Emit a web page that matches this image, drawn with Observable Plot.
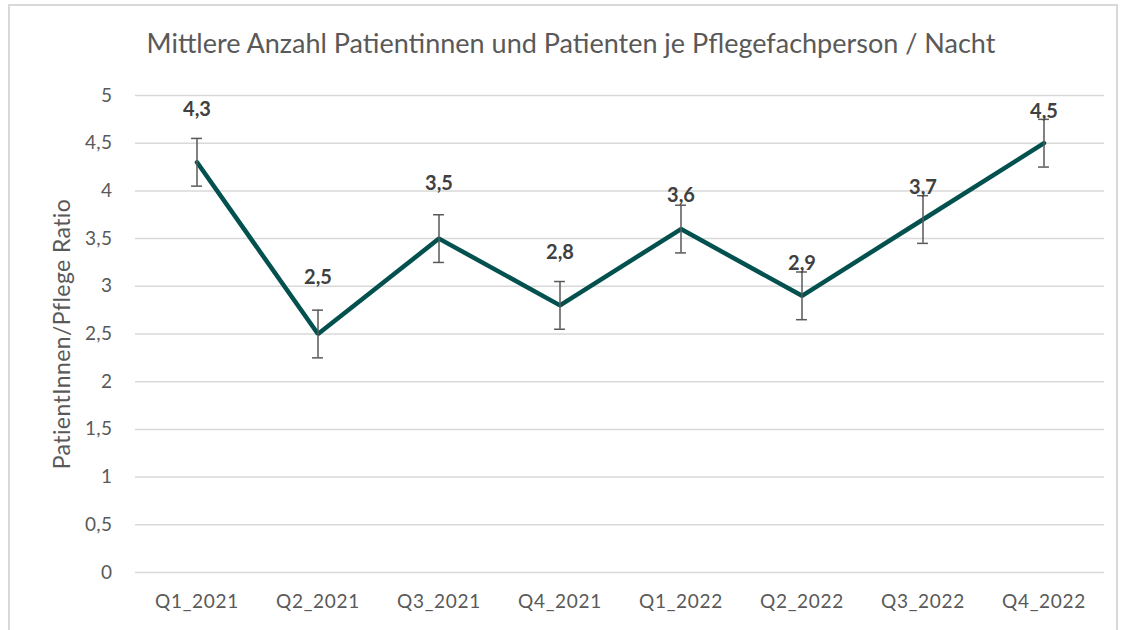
<!DOCTYPE html>
<html>
<head>
<meta charset="utf-8">
<script src="https://cdn.jsdelivr.net/npm/d3@7"></script>
<script src="https://cdn.jsdelivr.net/npm/@observablehq/plot@0.6"></script>
<style>
  html, body { margin: 0; padding: 0; background: #fff; }
  body { width: 1128px; height: 630px; position: relative; overflow: hidden; font-family: Lato, "Open Sans", sans-serif; }
  #frame { position: absolute; left: 8px; top: 4px; width: 1110px; height: 640px; border: 2px solid #d9d9d9; box-sizing: border-box; }
  #title { position: absolute; left: 0; top: 26px; width: 1142px; text-align: center; font-size: 27px; color: #595959; }
  #chart { position: absolute; left: 0; top: 80px; }
  #chart [aria-label="x-axis tick label"] text { letter-spacing: 0.7px; }
  #chart [aria-label="y-axis tick label"] text { letter-spacing: 0.4px; }
  #chart .ylab text { letter-spacing: 0.4px; }
</style>
</head>
<body>
<div id="frame"></div>
<div id="title">Mittlere Anzahl Patientinnen und Patienten je Pflegefachperson / Nacht</div>
<div id="chart"></div>
<script>
const categories = ["Q1_2021", "Q2_2021", "Q3_2021", "Q4_2021", "Q1_2022", "Q2_2022", "Q3_2022", "Q4_2022"];
const values = [4.3, 2.5, 3.5, 2.8, 3.6, 2.9, 3.7, 4.5];
const errors = [0.25, 0.25, 0.25, 0.25, 0.25, 0.25, 0.25, 0.25];
const yTicks = [0, 0.5, 1, 1.5, 2, 2.5, 3, 3.5, 4, 4.5, 5];
const yLabel = "PatientInnen/Pflege Ratio";

// layout only: vertical offset of each data label (px)
const labelDy = [-53, -56, -55, -53, -33, -32, -32, -32];

const data = categories.map((c, i) => ({cat: c, v: values[i], lo: values[i] - errors[i], hi: values[i] + errors[i], dy: labelDy[i]}));
const fmt = d => String(d).replace(".", ",");
const capInset = (1128 - 135 - 24) / categories.length / 2 - 5.5;

const plot = Plot.plot({
  width: 1128,
  height: 550,
  marginLeft: 135,
  marginRight: 24,
  marginTop: 15,
  marginBottom: 58,
  style: {fontFamily: "Lato, 'Open Sans', sans-serif", background: "transparent"},
  x: {type: "band", domain: categories, padding: 0, label: null},
  y: {domain: [0, 5], ticks: yTicks, label: null},
  marks: [
    Plot.gridY(yTicks, {stroke: "#d9d9d9", strokeOpacity: 1, strokeWidth: 1.5}),
    Plot.axisY(yTicks, {tickSize: 0, tickPadding: 23, tickFormat: fmt, fontSize: 19, fill: "#595959", label: null}),
    Plot.axisX({tickSize: 0, tickPadding: 22, fontSize: 19, fill: "#595959", label: null}),
    Plot.text([yLabel], {frameAnchor: "left", textAnchor: "middle", dx: -73, rotate: -90, fontSize: 23, fill: "#595959", className: "ylab"}),
    Plot.line(data, {x: "cat", y: "v", stroke: "#02514f", strokeWidth: 4.5, strokeLinejoin: "miter"}),
    Plot.ruleX(data, {x: "cat", y1: "lo", y2: "hi", stroke: "#595959", strokeWidth: 1.5}),
    Plot.tickY(data, {x: "cat", y: "lo", stroke: "#595959", strokeWidth: 1.5, insetLeft: capInset, insetRight: capInset}),
    Plot.tickY(data, {x: "cat", y: "hi", stroke: "#595959", strokeWidth: 1.5, insetLeft: capInset, insetRight: capInset}),
    ...data.map(d => Plot.text([d], {x: "cat", y: "v", text: e => fmt(e.v), dy: d.dy, fontSize: 20, fontWeight: "bold", fill: "#404040"}))
  ]
});
document.getElementById("chart").appendChild(plot);
</script>
</body>
</html>
